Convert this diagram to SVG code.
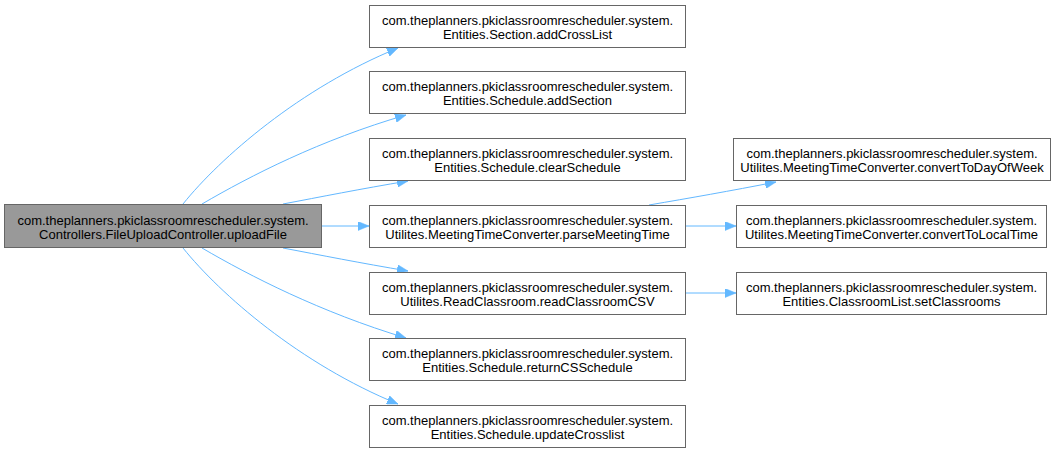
<svg xmlns="http://www.w3.org/2000/svg" width="1062" height="453" viewBox="0 0 1062 453">
<style>
.n rect{fill:#ffffff;stroke:#666666;stroke-width:1}
.m rect{fill:#999999;stroke:#666666;stroke-width:1}
text{font-family:"Liberation Sans",Arial,sans-serif;font-size:13px;fill:#000000;text-anchor:middle}
.e path{fill:none;stroke:#63b8ff;stroke-width:1}
</style>
<defs>
<marker id="a" markerWidth="11" markerHeight="9" refX="11" refY="4.5" orient="auto" markerUnits="userSpaceOnUse">
<path d="M0,0 L11,4.5 L0,9 z" fill="#63b8ff" stroke="#63b8ff" stroke-width="0.5"/>
</marker>
</defs>
<rect width="1062" height="453" fill="#ffffff"/>
<g class="e" id="connectors">
<path d="M183,204 C220,158 300,88 398,48" marker-end="url(#a)"/>
<path d="M202,204 C250,176 320,140 406,115" marker-end="url(#a)"/>
<path d="M283,204 C320,197 360,189 408,181" marker-end="url(#a)"/>
<path d="M322,226 L369,226" marker-end="url(#a)"/>
<path d="M283,248 C320,255 360,263 408,271" marker-end="url(#a)"/>
<path d="M202,248 C250,276 320,312 406,338" marker-end="url(#a)"/>
<path d="M183,248 C220,294 300,364 398,404" marker-end="url(#a)"/>
<path d="M649,205 C690,198 730,191 776,182" marker-end="url(#a)"/>
<path d="M686,226 L736,226" marker-end="url(#a)"/>
<path d="M686,293 L736,293" marker-end="url(#a)"/>
</g>
<g id="uploadFile" class="m"><rect x="4.5" y="204.5" width="317" height="43"/><text x="163" y="224.5">com.theplanners.pkiclassroomrescheduler.system.</text><text x="163" y="238.5">Controllers.FileUploadController.uploadFile</text></g>
<g id="addCrossList" class="n"><rect x="369.5" y="5.5" width="316" height="42"/><text x="527.5" y="25">com.theplanners.pkiclassroomrescheduler.system.</text><text x="527.5" y="39">Entities.Section.addCrossList</text></g>
<g id="addSection" class="n"><rect x="369.5" y="71.5" width="316" height="42"/><text x="527.5" y="91">com.theplanners.pkiclassroomrescheduler.system.</text><text x="527.5" y="105">Entities.Schedule.addSection</text></g>
<g id="clearSchedule" class="n"><rect x="369.5" y="138.5" width="316" height="42"/><text x="527.5" y="158">com.theplanners.pkiclassroomrescheduler.system.</text><text x="527.5" y="172">Entities.Schedule.clearSchedule</text></g>
<g id="parseMeetingTime" class="n"><rect x="369.5" y="205.5" width="316" height="42"/><text x="527.5" y="225">com.theplanners.pkiclassroomrescheduler.system.</text><text x="527.5" y="239">Utilites.MeetingTimeConverter.parseMeetingTime</text></g>
<g id="readClassroomCSV" class="n"><rect x="369.5" y="272.5" width="316" height="42"/><text x="527.5" y="292">com.theplanners.pkiclassroomrescheduler.system.</text><text x="527.5" y="306">Utilites.ReadClassroom.readClassroomCSV</text></g>
<g id="returnCSSchedule" class="n"><rect x="369.5" y="338.5" width="316" height="42"/><text x="527.5" y="358">com.theplanners.pkiclassroomrescheduler.system.</text><text x="527.5" y="372">Entities.Schedule.returnCSSchedule</text></g>
<g id="updateCrosslist" class="n"><rect x="369.5" y="405.5" width="316" height="42"/><text x="527.5" y="425">com.theplanners.pkiclassroomrescheduler.system.</text><text x="527.5" y="439">Entities.Schedule.updateCrosslist</text></g>
<g id="convertToDayOfWeek" class="n"><rect x="733.5" y="138.5" width="317" height="42"/><text x="892" y="158">com.theplanners.pkiclassroomrescheduler.system.</text><text x="892" y="172">Utilites.MeetingTimeConverter.convertToDayOfWeek</text></g>
<g id="convertToLocalTime" class="n"><rect x="736.5" y="205.5" width="310" height="42"/><text x="891.5" y="225">com.theplanners.pkiclassroomrescheduler.system.</text><text x="891.5" y="239">Utilites.MeetingTimeConverter.convertToLocalTime</text></g>
<g id="setClassrooms" class="n"><rect x="736.5" y="272.5" width="310" height="42"/><text x="891.5" y="292">com.theplanners.pkiclassroomrescheduler.system.</text><text x="891.5" y="306">Entities.ClassroomList.setClassrooms</text></g>
</svg>
